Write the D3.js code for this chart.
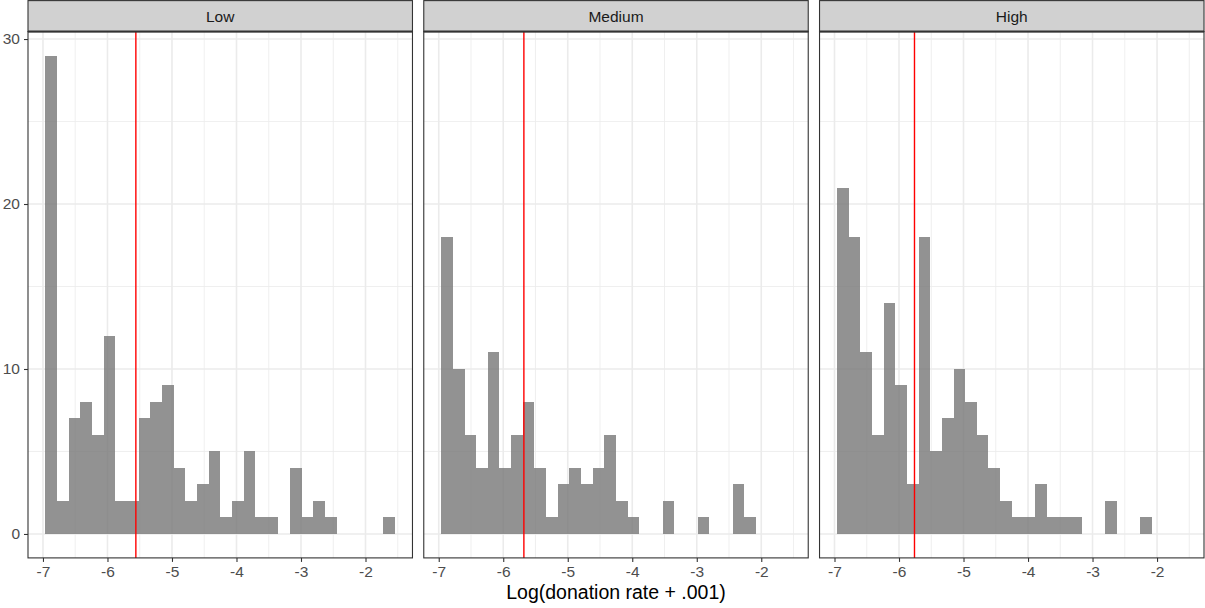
<!DOCTYPE html>
<html>
<head>
<meta charset="utf-8">
<script src="https://cdn.jsdelivr.net/npm/d3@7"></script>
<style>
  body { margin: 0; background: #fff; }
  text { font-family: "Liberation Sans", Arial, sans-serif; }
</style>
</head>
<body>
<div id="chart"></div>
<script>
// facet levels
const panels = ["Low", "Medium", "High"];

// histogram breaks (30 bins, shared by all facets)
const binStart = -6.961;
const binWidth = 0.1806;

// counts per bin
const lowCounts    = [29, 2, 7, 8, 6, 12, 2, 2, 7, 8, 9, 4, 2, 3, 5, 1, 2, 5, 1, 1, 0, 4, 1, 2, 1, 0, 0, 0, 0, 1];
const mediumCounts = [18, 10, 6, 4, 11, 4, 6, 8, 4, 1, 3, 4, 3, 4, 6, 2, 1, 0, 0, 2, 0, 0, 1, 0, 0, 3, 1, 0, 0, 0];
const highCounts   = [21, 18, 11, 6, 14, 9, 3, 18, 5, 7, 10, 8, 6, 4, 2, 1, 1, 3, 1, 1, 1, 0, 0, 2, 0, 0, 1, 0, 0, 0];

// mean line per facet
const means = [-5.56, -5.68, -5.76];

const xTicks = [-7, -6, -5, -4, -3, -2];
const xMinor = [-6.5, -5.5, -4.5, -3.5, -2.5, -1.5];
const yTicks = [0, 10, 20, 30];
const yMinor = [5, 15, 25];

const countsByPanel = [lowCounts, mediumCounts, highCounts];

const width = 1205, height = 608;
const plotLeft = 28, plotRight = 1204, gap = 11.3;
const plotTop = 31.6, plotBottom = 557.9;
const panelW = (plotRight - plotLeft - 2 * gap) / 3;

const svg = d3.select("#chart").append("svg")
    .attr("width", width)
    .attr("height", height);

const x = d3.scaleLinear().domain([-7.232, -1.272]).range([0, panelW]);
const y = d3.scaleLinear().domain([-1.45, 30.45]).range([plotBottom, plotTop]);

panels.forEach((name, i) => {
    const counts = countsByPanel[i];
    const bins = counts.map((c, k) => ({ x0: binStart + k * binWidth, x1: binStart + (k + 1) * binWidth, n: c }));
    const g = svg.append("g").attr("transform", `translate(${plotLeft + i * (panelW + gap)},0)`);

    // grid
    g.selectAll(".xminor").data(xMinor).join("line")
        .attr("x1", d => x(d)).attr("x2", d => x(d))
        .attr("y1", plotTop).attr("y2", plotBottom)
        .attr("stroke", "#ebebeb").attr("stroke-width", 0.8);
    g.selectAll(".yminor").data(yMinor).join("line")
        .attr("x1", 0).attr("x2", panelW)
        .attr("y1", d => y(d)).attr("y2", d => y(d))
        .attr("stroke", "#ebebeb").attr("stroke-width", 0.8);
    g.selectAll(".xmajor").data(xTicks).join("line")
        .attr("x1", d => x(d)).attr("x2", d => x(d))
        .attr("y1", plotTop).attr("y2", plotBottom)
        .attr("stroke", "#ebebeb").attr("stroke-width", 1.6);
    g.selectAll(".ymajor").data(yTicks).join("line")
        .attr("x1", 0).attr("x2", panelW)
        .attr("y1", d => y(d)).attr("y2", d => y(d))
        .attr("stroke", "#ebebeb").attr("stroke-width", 1.6);

    // bars
    g.selectAll(".bar").data(bins.filter(b => b.n > 0)).join("rect")
        .attr("x", d => x(d.x0))
        .attr("width", d => x(d.x1) - x(d.x0))
        .attr("y", d => y(d.n))
        .attr("height", d => y(0) - y(d.n))
        .attr("fill", "#777777")
        .attr("fill-opacity", 0.8)
        .attr("shape-rendering", "crispEdges");

    // mean line
    g.append("line")
        .attr("x1", x(means[i])).attr("x2", x(means[i]))
        .attr("y1", plotTop).attr("y2", plotBottom)
        .attr("stroke", "#ff0000").attr("stroke-width", 1.4);

    // panel border
    g.append("rect")
        .attr("x", 0).attr("y", plotTop)
        .attr("width", panelW).attr("height", plotBottom - plotTop)
        .attr("fill", "none").attr("stroke", "#333333").attr("stroke-width", 1.1);

    // strip
    g.append("rect")
        .attr("x", 0).attr("y", 0.6)
        .attr("width", panelW).attr("height", plotTop - 0.6)
        .attr("fill", "#d1d1d1").attr("stroke", "#333333").attr("stroke-width", 1.1);
    g.append("line")
        .attr("x1", 0).attr("x2", panelW)
        .attr("y1", plotTop).attr("y2", plotTop)
        .attr("stroke", "#333333").attr("stroke-width", 2);
    g.append("text")
        .attr("x", panelW / 2).attr("y", 22)
        .attr("text-anchor", "middle")
        .attr("font-size", 15.5)
        .attr("fill", "#1a1a1a")
        .text(name);

    // x axis
    const xAxis = d3.axisBottom(x).tickValues(xTicks).tickSize(4).tickPadding(4)
        .tickFormat(d => d3.format("d")(d).replace("−", "-"));
    const ax = g.append("g").attr("transform", `translate(0,${plotBottom})`).call(xAxis);
    ax.select(".domain").remove();
    ax.selectAll(".tick line").attr("stroke", "#333333").attr("stroke-width", 1.1);
    ax.selectAll(".tick text").attr("fill", "#4d4d4d").attr("font-size", 15.5)
        .attr("font-family", "'Liberation Sans', Arial, sans-serif");
});

// y axis on first panel
const yAxis = d3.axisLeft(y).tickValues(yTicks).tickSize(4).tickPadding(4);
const ay = svg.append("g").attr("transform", `translate(${plotLeft},0)`).call(yAxis);
ay.select(".domain").remove();
ay.selectAll(".tick line").attr("stroke", "#333333").attr("stroke-width", 1.1);
ay.selectAll(".tick text").attr("fill", "#4d4d4d").attr("font-size", 15.5)
    .attr("font-family", "'Liberation Sans', Arial, sans-serif");

// axis title
svg.append("text")
    .attr("x", (plotLeft + plotRight) / 2)
    .attr("y", 599)
    .attr("text-anchor", "middle")
    .attr("font-size", 19.5)
    .attr("fill", "#000")
    .text("Log(donation rate + .001)");
</script>
</body>
</html>
